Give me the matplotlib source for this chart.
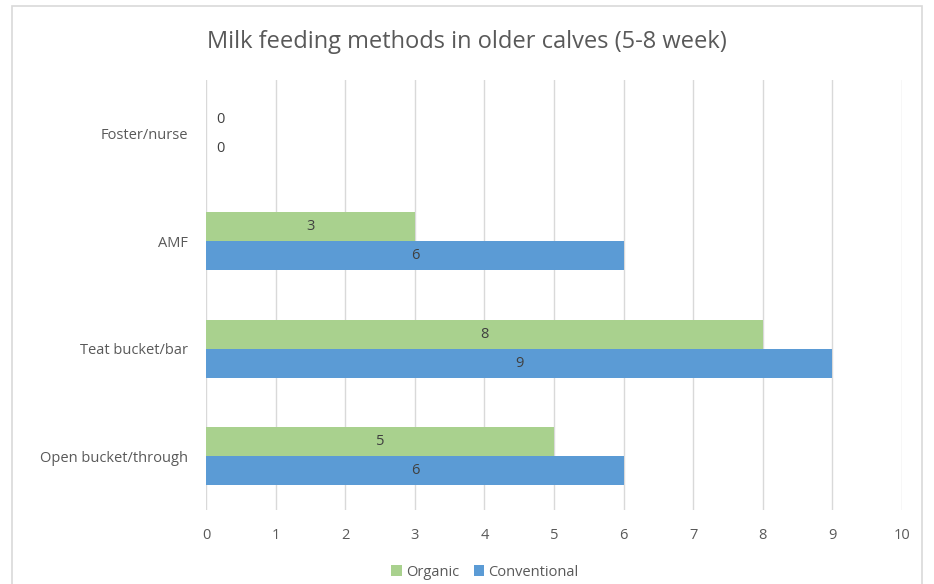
import matplotlib
matplotlib.use("Agg")
import matplotlib.pyplot as plt
from matplotlib.patches import Rectangle
import numpy as np

plt.rcParams['font.family'] = ['Open Sans', 'DejaVu Sans']

categories = ["Open bucket/through", "Teat bucket/bar", "AMF", "Foster/nurse"]
organic = [5, 8, 3, 0]
conventional = [6, 9, 6, 0]
x_ticks = list(range(0, 11))

green = "#A9D18E"
blue = "#5B9BD5"
text_col = "#595959"

fig = plt.figure(figsize=(9.34, 5.84), dpi=100)
ax = fig.add_axes([0.2206, 0.1267, 0.7451, 0.7363])

# outer chart frame
fig.patches.append(Rectangle((12 / 934, -0.05), 910 / 934, 1 - 6 / 584 + 0.05,
                             transform=fig.transFigure, fill=False,
                             edgecolor="#D9D9D9", linewidth=1.2))

y = np.arange(len(categories))
h = 0.27
ax.barh(y + h / 2, organic, height=h, color=green, label="Organic", zorder=3)
ax.barh(y - h / 2, conventional, height=h, color=blue, label="Conventional", zorder=3)

for i in range(len(categories)):
    for val, off in ((organic[i], h / 2), (conventional[i], -h / 2)):
        xpos = val / 2 if val > 0 else 0.15
        ax.text(xpos, y[i] + off, str(val), ha="center" if val > 0 else "left",
                va="center", fontsize=10.5, color="#404040", zorder=4)

ax.set_xlim(0, 10)
ax.set_ylim(-0.5, 3.5)
ax.set_xticks(x_ticks)
ax.set_yticks(y)
ax.set_yticklabels(categories)
ax.tick_params(axis="both", length=0, labelsize=10.5, colors=text_col)
ax.tick_params(axis="x", pad=13)
ax.tick_params(axis="y", pad=13)
ax.grid(axis="x", color="#D9D9D9", linewidth=1, zorder=0)
for s in ax.spines.values():
    s.set_visible(False)

fig.text(0.5, 1 - 42 / 584, "Milk feeding methods in older calves (5-8 week)",
         ha="center", va="center", fontsize=17, color=text_col)

leg = fig.legend(loc="center", bbox_to_anchor=(485 / 934, 1 - 572 / 584), ncol=2,
                 frameon=False, fontsize=10.5, handlelength=0.7, handleheight=0.7,
                 handletextpad=0.3, columnspacing=1.0, labelcolor=text_col)

fig.savefig("out.png", dpi=100)
